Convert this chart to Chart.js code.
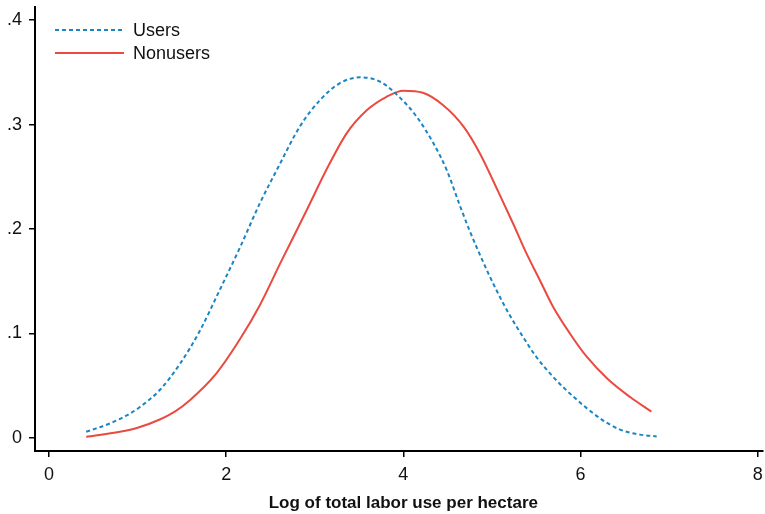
<!DOCTYPE html>
<html>
<head>
<meta charset="utf-8">
<script src="https://cdn.jsdelivr.net/npm/chart.js@4"></script>
<style>
  html, body { margin: 0; padding: 0; background: #fff; }
  #wrap { width: 765px; height: 514px; }
</style>
</head>
<body>
<div id="wrap"><canvas id="c" width="765" height="514"></canvas></div>
<script>
// Kernel density of log labor use per hectare, users vs nonusers
const usersX = [0.42, 0.69, 0.91, 1.03, 1.25, 1.48, 1.70, 1.93, 2.16, 2.38, 2.61, 2.83, 3.06, 3.28, 3.51, 3.74, 3.97, 4.15, 4.34, 4.49, 4.64, 4.75, 4.90, 5.05, 5.20, 5.35, 5.50, 5.69, 5.92, 6.22, 6.44, 6.67, 6.86];
const usersY = [0.0057, 0.0138, 0.023, 0.0297, 0.0457, 0.071, 0.102, 0.142, 0.183, 0.2245, 0.2628, 0.2979, 0.3235, 0.3395, 0.3452, 0.341, 0.3251, 0.3075, 0.282, 0.2564, 0.222, 0.198, 0.1685, 0.1415, 0.1175, 0.0967, 0.0776, 0.0584, 0.0393, 0.0186, 0.008, 0.003, 0.0013];

const nonusersX = [0.42, 0.80, 1.0, 1.25, 1.42, 1.59, 1.89, 2.16, 2.38, 2.61, 2.91, 3.13, 3.36, 3.59, 3.81, 4.0, 4.22, 4.45, 4.68, 4.86, 5.07, 5.24, 5.39, 5.54, 5.69, 5.88, 6.07, 6.31, 6.56, 6.80];
const nonusersY = [0.001, 0.0057, 0.0095, 0.0175, 0.025, 0.036, 0.0617, 0.095, 0.127, 0.167, 0.2181, 0.2564, 0.2916, 0.3139, 0.3266, 0.3324, 0.3305, 0.3185, 0.298, 0.273, 0.236, 0.205, 0.1766, 0.1511, 0.1255, 0.0999, 0.0776, 0.056, 0.039, 0.025];

const seriesNames = ['Users', 'Nonusers'];
const xTicks = [0, 2, 4, 6, 8];
const yTicks = [0, 0.1, 0.2, 0.3, 0.4];
const yTickLabels = ['0', '.1', '.2', '.3', '.4'];
const xTitle = 'Log of total labor use per hectare';

const FONT = '"Liberation Sans", Arial, sans-serif';
const BLUE = '#1a84c4';
const RED = '#ea4a3f';

function pts(xs, ys) { return xs.map((x, i) => ({ x: x, y: ys[i] })); }

// Legend inside the plot (top-left) and the x-axis title centred on the plot region
const annotations = {
  id: 'annotations',
  afterDraw(chart) {
    const ctx = chart.ctx;
    const rows = [30, 53];
    ctx.save();
    chart.data.datasets.forEach((ds, i) => {
      const y = rows[i];
      ctx.beginPath();
      ctx.setLineDash(ds.borderDash || []);
      ctx.strokeStyle = ds.borderColor;
      ctx.lineWidth = ds.borderWidth;
      ctx.moveTo(55, y);
      ctx.lineTo(124, y);
      ctx.stroke();
      ctx.setLineDash([]);
      ctx.fillStyle = '#111';
      ctx.font = '18px ' + FONT;
      ctx.textBaseline = 'middle';
      ctx.textAlign = 'left';
      ctx.fillText(ds.label, 133, y + 1);
    });

    const xs = chart.scales.x;
    const cx = (xs.getPixelForValue(xTicks[0]) + xs.getPixelForValue(xTicks[xTicks.length - 1])) / 2;
    ctx.fillStyle = '#111';
    ctx.font = 'bold 17px ' + FONT;
    ctx.textAlign = 'center';
    ctx.textBaseline = 'alphabetic';
    ctx.fillText(xTitle, cx, 508);
    ctx.restore();
  }
};

new Chart(document.getElementById('c'), {
  type: 'line',
  data: {
    datasets: [
      {
        label: seriesNames[0],
        data: pts(usersX, usersY),
        borderColor: BLUE,
        borderWidth: 2,
        borderDash: [4, 3],
        pointRadius: 0,
        cubicInterpolationMode: 'monotone',
        fill: false
      },
      {
        label: seriesNames[1],
        data: pts(nonusersX, nonusersY),
        borderColor: RED,
        borderWidth: 2,
        pointRadius: 0,
        cubicInterpolationMode: 'monotone',
        fill: false
      }
    ]
  },
  options: {
    responsive: false,
    animation: false,
    devicePixelRatio: 1,
    layout: { padding: { top: 7, right: 2, left: 0, bottom: 0 } },
    plugins: {
      legend: { display: false },
      tooltip: { enabled: false }
    },
    scales: {
      x: {
        type: 'linear',
        min: -0.158,
        max: 8.06,
        afterBuildTicks(scale) { scale.ticks = xTicks.map(v => ({ value: v })); },
        afterFit(scale) { scale.height = 63; scale.paddingLeft = 0; scale.paddingRight = 0; },
        border: { display: true, color: '#000', width: 2 },
        grid: { display: true, drawOnChartArea: false, drawTicks: true, tickLength: 6, color: '#000', lineWidth: 1.5 },
        ticks: {
          color: '#111',
          font: { family: FONT, size: 18 },
          padding: 7,
          maxRotation: 0,
          callback: v => String(v)
        }
      },
      y: {
        type: 'linear',
        min: -0.0127,
        max: 0.4126,
        afterBuildTicks(scale) { scale.ticks = yTicks.map(v => ({ value: v })); },
        afterFit(scale) { scale.width = 35; scale.paddingTop = 0; scale.paddingBottom = 0; },
        border: { display: true, color: '#000', width: 2 },
        grid: { display: true, drawOnChartArea: false, drawTicks: true, tickLength: 6, color: '#000', lineWidth: 1.5 },
        ticks: {
          color: '#111',
          font: { family: FONT, size: 18 },
          padding: 7,
          callback: v => {
            const i = yTicks.findIndex(t => Math.abs(t - v) < 1e-9);
            return i >= 0 ? yTickLabels[i] : '';
          }
        }
      }
    }
  },
  plugins: [annotations]
});
</script>
</body>
</html>
